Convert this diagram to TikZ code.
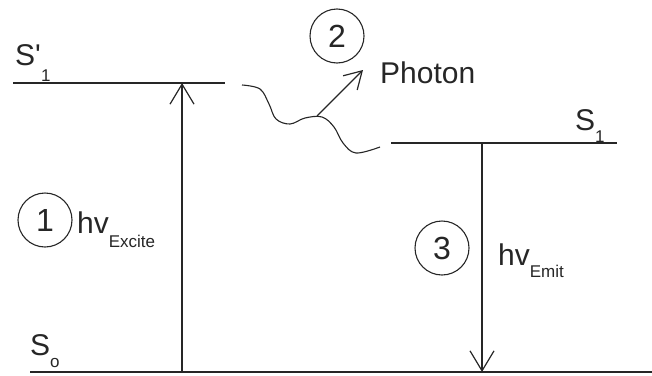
\documentclass[tikz,border=0pt]{standalone}
\usepackage{fontspec}
\setmainfont{Liberation Sans}
\usetikzlibrary{arrows.meta, shapes.geometric}
\newcommand{\lowsub}[2]{\raisebox{-#1pt}{\fontsize{17}{20}\selectfont #2}}
\tikzset{
  level/.style={line width=1.2pt, draw=black!85},
  trans/.style={-{Straight Barb[length=20pt, width=24pt, line width=1.2pt]}, line width=1.2pt, draw=black!85},
  emits/.style={-{Straight Barb[length=17pt, width=20pt, line width=1.2pt]}, line width=1.2pt, draw=black!85},
  lbl/.style={anchor=base west, inner sep=0pt, font=\fontsize{30}{36}\selectfont, text=black!85},
  stepnum/.style={circle, draw=black!85, line width=1.1pt, minimum size=54pt, inner sep=0pt,
                  font=\fontsize{32}{32}\selectfont, text=black!85},
}
\begin{document}
\begin{tikzpicture}[x=1pt, y=-1pt]
  \useasboundingbox (0,0) rectangle (652,375);
  % energy levels
  \coordinate (s1p-l) at (13,83);
  \coordinate (s1p-r) at (225,83);
  \coordinate (s1-l) at (391,143);
  \coordinate (s1-r) at (617,143);
  \coordinate (s0-l) at (30,372);
  \coordinate (s0-r) at (652,372);
  \draw[level] (s1p-l) -- (s1p-r);
  \draw[level] (s1-l) -- (s1-r);
  \draw[level] (s0-l) -- (s0-r);
  \node[lbl] (s1p) at (15,65) {S\rlap{\textquotesingle}\hspace{6pt}\lowsub{16}{1}};
  \node[lbl] (s1) at (575,130) {S\lowsub{12}{1}};
  \node[lbl] (s0) at (30,355) {S\lowsub{12}{o}};
  % excitation and emission
  \coordinate (exc-b) at (182,372);
  \coordinate (exc-t) at (182,83);
  \coordinate (emi-t) at (482,143);
  \coordinate (emi-b) at (482,372);
  \draw[trans] (exc-b) -- (exc-t);
  \draw[trans] (emi-t) -- (emi-b);
  \node[stepnum] (n1) at (45,220) {1};
  \node[lbl] (hvexc) at (77,233) {hv\lowsub{14}{Excite}};
  \node[stepnum] (n3) at (442,248) {3};
  \node[lbl] (hvemi) at (498,265) {hv\lowsub{12}{Emit}};
  % photon
  \draw[level, line width=1.1pt] plot[smooth, tension=0.6] coordinates {
    (242,85) (260,89) (269,104) (276,119) (290,124) (305,118) (322,117)
    (334,127) (343,143) (356,153) (380,147)};
  \coordinate (wave-mid) at (317,116);
  \coordinate (ph-tip) at (363,70);
  \draw[emits] (wave-mid) -- (ph-tip);
  \node[stepnum] (n2) at (337,36) {2};
  \node[lbl] (photon) at (380,83) {Photon};
\end{tikzpicture}
\end{document}
